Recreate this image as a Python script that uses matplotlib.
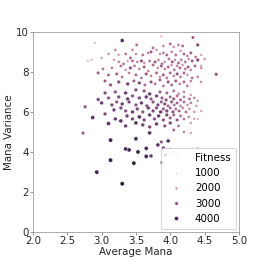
import numpy as np
import matplotlib
matplotlib.use("Agg")
import matplotlib.pyplot as plt
import seaborn as sns
from matplotlib.lines import Line2D

# upper cluster (lighter, lower fitness)
upper_x = [2.90, 3.30, 3.51, 3.45, 3.75, 3.80, 3.90, 4.00, 4.05, 4.12, 4.18, 4.33, 4.40, 3.87,
           3.10, 3.20, 3.25, 3.35, 3.42, 3.50, 3.60, 3.68, 3.72, 3.85, 3.90, 3.95, 4.02, 4.08, 4.15, 4.20, 4.25, 4.30, 4.37, 4.45,
           2.80, 2.85, 3.00, 3.18, 3.25, 3.32, 3.38, 3.45, 3.52, 3.58, 3.62, 3.70, 3.78, 3.83, 3.88, 3.92, 3.98, 4.03, 4.07, 4.12, 4.16, 4.22, 4.27, 4.32, 4.40, 4.45, 4.50,
           2.95, 3.02, 3.15, 3.28, 3.35, 3.42, 3.48, 3.55, 3.62, 3.68, 3.75, 3.82, 3.87, 3.92, 3.97, 4.02, 4.06, 4.10, 4.14, 4.18, 4.22, 4.26, 4.30, 4.36, 4.45,
           3.10, 3.22, 3.30, 3.40, 3.50, 3.58, 3.65, 3.72, 3.80, 3.85, 3.90, 3.95, 4.00, 4.05, 4.10, 4.15, 4.20, 4.25, 4.32, 4.67, 4.40,
           3.05, 3.13, 3.25, 3.38, 3.47, 3.55, 3.63, 3.72, 3.78, 3.85, 3.90, 3.97, 4.02, 4.08, 4.14, 4.20, 4.25, 4.30, 4.45]
upper_y = [9.45, 9.57, 9.35, 9.10, 9.20, 9.10, 9.30, 9.40, 9.25, 9.35, 9.30, 9.72, 9.35, 9.78,
           8.90, 9.10, 8.85, 8.90, 8.70, 8.90, 8.85, 8.95, 9.00, 8.90, 8.95, 8.85, 9.00, 8.85, 9.05, 8.90, 8.80, 8.95, 8.75, 8.85,
           8.55, 8.60, 8.70, 8.60, 8.50, 8.40, 8.55, 8.55, 8.50, 8.55, 8.45, 8.55, 8.50, 8.60, 8.40, 8.50, 8.65, 8.50, 8.60, 8.45, 8.60, 8.50, 8.65, 8.55, 8.60, 8.30, 8.65,
           7.95, 8.15, 8.20, 8.30, 8.10, 8.20, 8.30, 8.15, 8.25, 8.05, 8.35, 8.20, 8.30, 8.15, 8.25, 8.35, 8.10, 8.30, 8.20, 8.35, 8.15, 8.25, 8.10, 8.30, 8.20,
           7.85, 7.90, 7.75, 7.95, 7.85, 7.70, 7.90, 7.80, 7.95, 7.75, 7.85, 7.70, 7.95, 7.80, 7.90, 7.75, 7.95, 7.85, 7.70, 7.88, 7.75,
           7.55, 7.35, 7.50, 7.40, 7.55, 7.45, 7.35, 7.50, 7.40, 7.60, 7.30, 7.50, 7.35, 7.55, 7.40, 7.50, 7.30, 7.55, 7.50]
upper_fit = [1500, 3800, 2500, 2200, 2500, 2000, 2200, 2500, 2000, 2300, 2600, 2800, 3200, 1500,
             2000, 2200, 1800, 2400, 2600, 2000, 2400, 2200, 2800, 2000, 2400, 2600, 2200, 2400, 2000, 2600, 2200, 2800, 2400, 1800,
             1500, 1500, 1800, 1800, 2200, 2400, 1800, 2600, 2200, 3000, 2000, 2400, 2800, 2200, 2600, 2000, 2400, 2800, 2000, 2600, 2200, 2400, 2000, 2800, 3200, 1800, 2000,
             2800, 2400, 2200, 2400, 2000, 3000, 2400, 2200, 2800, 2200, 2600, 2000, 2800, 2200, 2600, 2000, 2400, 2200, 2600, 2000, 2400, 2800, 2200, 2600, 2000,
             2600, 2800, 2400, 2200, 2600, 2400, 3000, 2200, 2600, 2000, 2800, 2400, 2600, 2200, 3000, 2400, 2600, 2000, 2400, 3000, 2200,
             2800, 3000, 3200, 3400, 2800, 3200, 2600, 3000, 2400, 2800, 2400, 3000, 2600, 2800, 2200, 2600, 2400, 2200, 2000]

# lower cluster (darker, higher fitness)
lower_x = [3.05, 3.20, 3.35, 3.50, 3.62, 3.70, 3.85, 3.95, 4.05, 4.12, 4.20, 4.30,
           2.95, 3.10, 3.25, 3.38, 3.45, 3.55, 3.65, 3.72, 3.80, 3.88, 3.94, 4.00, 4.05, 4.10, 4.15, 4.20, 4.28, 4.35, 4.40,
           3.00, 3.15, 3.22, 3.30, 3.40, 3.50, 3.58, 3.66, 3.75, 3.82, 3.87, 3.92, 3.97, 4.02, 4.06, 4.10, 4.15, 4.20, 4.25, 4.30, 4.38,
           2.76, 3.05, 3.18, 3.28, 3.35, 3.45, 3.52, 3.60, 3.68, 3.75, 3.80, 3.86, 3.90, 3.95, 4.00, 4.04, 4.08, 4.13, 4.18, 4.23, 4.28, 4.35, 4.45,
           2.87, 3.20, 3.28, 3.37, 3.45, 3.55, 3.62, 3.70, 3.77, 3.83, 3.90, 3.95, 4.00, 4.05, 4.10, 4.15, 4.20, 4.27, 4.35, 4.40,
           3.10, 3.35, 3.50, 3.60, 3.70, 3.80, 3.92, 4.00, 4.05, 4.12, 4.20, 4.30, 4.30, 2.73]
lower_y = [6.95, 7.00, 6.95, 7.10, 7.05, 6.90, 7.00, 6.95, 7.05, 6.90, 7.00, 6.85,
           6.62, 6.70, 6.75, 6.65, 6.80, 6.70, 6.75, 6.65, 6.80, 6.70, 6.60, 6.75, 6.65, 6.80, 6.60, 6.75, 6.65, 6.70, 6.55,
           6.45, 6.35, 6.50, 6.40, 6.50, 6.35, 6.45, 6.30, 6.50, 6.35, 6.50, 6.40, 6.30, 6.50, 6.35, 6.45, 6.30, 6.50, 6.35, 6.45, 6.30,
           6.26, 5.90, 6.10, 6.20, 6.05, 6.00, 6.15, 6.00, 6.20, 6.05, 6.20, 6.00, 6.15, 6.05, 6.20, 6.00, 6.15, 6.05, 6.20, 6.00, 6.15, 6.00, 6.05,
           5.72, 5.65, 5.55, 5.80, 5.65, 5.75, 5.60, 5.85, 5.65, 5.80, 5.60, 5.85, 5.70, 5.85, 5.60, 5.80, 5.65, 5.75, 5.65, 5.65,
           5.42, 5.30, 5.45, 5.35, 5.25, 5.40, 5.30, 5.45, 5.10, 5.30, 5.00, 5.45, 4.95, 4.94]
lower_fit = [3300, 3100, 3500, 3300, 3100, 3500, 2900, 2700, 2500, 2300, 2100, 1900,
             3300, 3100, 3300, 3500, 3100, 3300, 3500, 3100, 3300, 2900, 3100, 2700, 2900, 2500, 2700, 2300, 2500, 2100, 1900,
             3500, 3300, 3100, 3500, 3300, 3100, 3500, 3300, 3100, 3300, 2900, 3100, 2700, 2900, 2500, 2700, 2300, 2500, 2100, 2300, 1900,
             3100, 3300, 3500, 3300, 3100, 3500, 3300, 3100, 3500, 3300, 3100, 3500, 2900, 3300, 2700, 3100, 2500, 2700, 2300, 2500, 2100, 1900, 1700,
             3800, 3500, 3800, 3500, 3300, 3800, 3300, 3500, 3100, 3500, 3100, 3300, 2900, 2700, 2900, 2500, 2300, 2100, 1700, 1500,
             3800, 3500, 3800, 3500, 3300, 3500, 3100, 3300, 2700, 2500, 2100, 1900, 1700, 2900]

# sparse bottom points (darkest)
bottom_x = [2.93, 3.13, 3.13, 3.30, 3.35, 3.40, 3.47, 3.50, 3.53, 3.65, 3.65, 3.70, 3.72,
            3.82, 3.88, 3.90, 3.93, 3.97, 3.87, 4.00, 4.05, 4.10, 4.40]
bottom_y = [2.99, 4.59, 3.59, 2.41, 4.15, 4.10, 3.44, 4.66, 4.00, 3.78, 4.18, 4.95, 3.80,
            4.35, 3.48, 4.20, 3.85, 4.55, 4.50, 4.15, 4.00, 3.70, 4.20]
bottom_fit = [4200, 4200, 4300, 4400, 4000, 4100, 4300, 4000, 4200, 4100, 4000, 3800, 3600,
              3800, 3600, 3400, 3200, 3800, 3000, 2000, 1600, 1200, 1500]

legend_levels = [1000, 2000, 3000, 4000]

x = np.array(upper_x + lower_x + bottom_x)
y = np.array(upper_y + lower_y + bottom_y)
fit = np.array(upper_fit + lower_fit + bottom_fit)

cmap = sns.cubehelix_palette(as_cmap=True)
fmin, fmax = 800, fit.max()
norm = plt.Normalize(vmin=fmin, vmax=fmax)


def size_of(f):
    return 2 + 16 * (np.asarray(f) - fmin) / (fmax - fmin)


fig = plt.figure(figsize=(266 / 72, 266 / 72), dpi=72)
ax = fig.add_axes([0.124, 0.128, 0.774, 0.752])

ax.scatter(x, y, c=cmap(norm(fit)), s=size_of(fit), edgecolors="white", linewidths=0.3, zorder=2)

ax.set_xlim(2.0, 5.0)
ax.set_ylim(0, 10)
ax.set_xticks([2.0, 2.5, 3.0, 3.5, 4.0, 4.5, 5.0])
ax.set_yticks([0, 2, 4, 6, 8, 10])
ax.set_xlabel("Average Mana", fontsize=10.3, labelpad=1, color="0.15")
ax.set_ylabel("Mana Variance", fontsize=10.3, labelpad=2, color="0.15")
ax.tick_params(labelsize=10.3, length=3, width=0.8, colors="0.5", labelcolor="0.15", pad=1)
for sp in ax.spines.values():
    sp.set_color("0.6")
    sp.set_linewidth(0.8)

handles = [Line2D([], [], linestyle="none", marker="")]
labels = ["Fitness"]
for lv in legend_levels:
    handles.append(Line2D([], [], linestyle="none", marker="o",
                          markersize=np.sqrt(size_of(lv)), markerfacecolor=cmap(norm(lv)),
                          markeredgecolor="white", markeredgewidth=0.3))
    labels.append(str(lv))
leg = ax.legend(handles, labels, loc="lower right", fontsize=10.3, frameon=True,
                handletextpad=0.8, borderpad=0.5, labelspacing=0.5, handlelength=2.0,
                borderaxespad=0.3)
leg.get_frame().set_edgecolor("0.8")

fig.savefig("out.png", dpi=72)
